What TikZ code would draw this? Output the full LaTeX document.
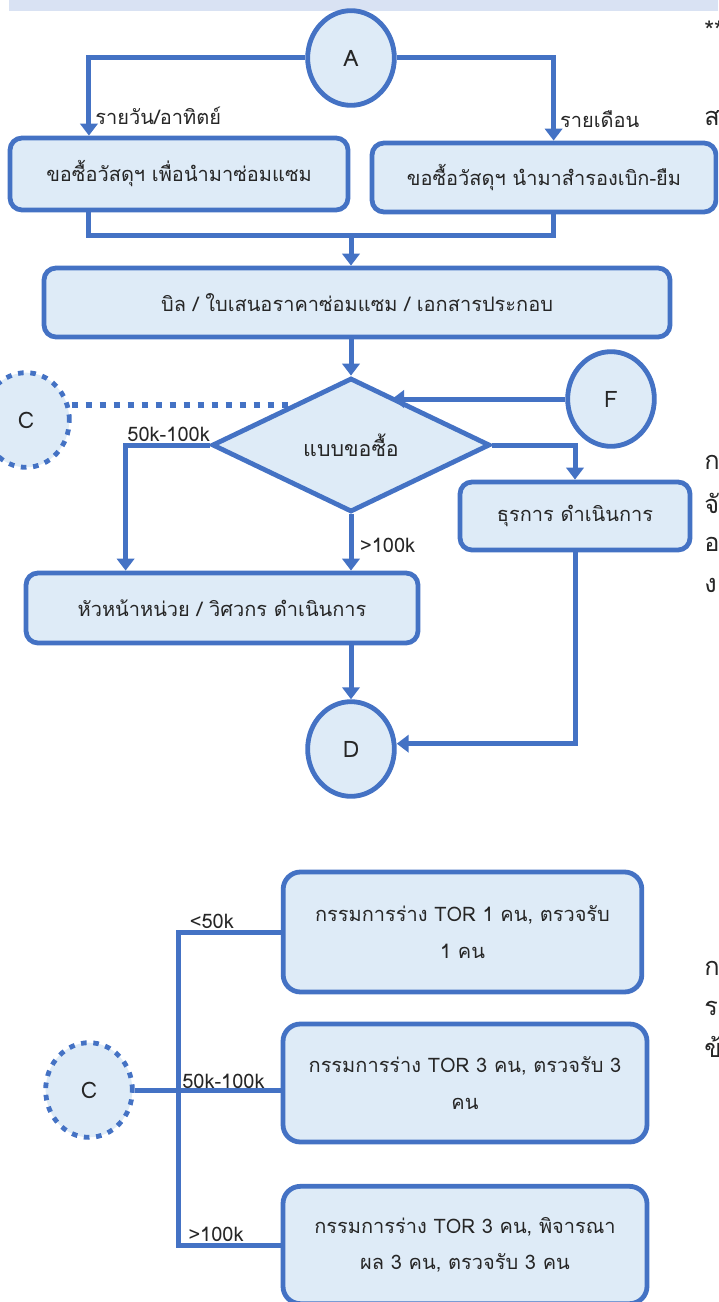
\documentclass[tikz,border=0pt]{standalone}
\usepackage{fontspec}
\setmainfont{Loma}[Script=Thai]
\usetikzlibrary{arrows.meta,shapes.geometric,calc}
\definecolor{fblue}{RGB}{68,114,196}
\definecolor{fpale}{RGB}{222,235,247}
\definecolor{fband}{RGB}{217,226,243}
\definecolor{ftext}{RGB}{38,38,38}
\tikzset{
  box/.style={rectangle, rounded corners=9pt,
    draw=fblue, fill=fpale, line width=3.6pt,
    font=\fontsize{15}{27.5}\selectfont, text=ftext,
    align=center, inner sep=0pt},
  bigbox/.style={box, rounded corners=13pt},
  conn/.style={ellipse, draw=fblue, fill=fpale, line width=3.6pt,
    inner sep=0pt, minimum width=65pt, minimum height=71pt,
    font=\fontsize{17}{20}\selectfont, text=ftext},
  offpage/.style={conn, dash pattern=on 4.2pt off 5pt},
  decide/.style={diamond, draw=fblue, fill=fpale, line width=3.6pt,
    inner sep=0pt, font=\fontsize{16}{18}\selectfont, text=ftext},
  flow/.style={draw=fblue, line width=3.75pt},
  arr/.style={flow, -{Triangle[length=9pt,width=13pt]}},
  dotline/.style={draw=fblue, line width=4.5pt, dash pattern=on 4.5pt off 6pt},
  lbl/.style={font=\fontsize{15}{17}\selectfont, text=ftext, inner sep=1pt},
  cut/.style={font=\fontsize{19}{22}\selectfont, text=ftext, inner sep=0pt, anchor=west}
}

\begin{document}
\begin{tikzpicture}[x=0.75pt,y=-0.75pt]
  \useasboundingbox (0,0) rectangle (718,1302);
  \clip (0,0) rectangle (718,1302);
  \fill[fband] (9,0) rectangle (718,11);

  % upper flow
  \node[conn] (cA) at (351,58) {A};
  \node[box, minimum width=253.5pt, minimum height=54pt] (repair) at (179,174)
    {ขอซื้อวัสดุฯ เพื่อนำมาซ่อมแซม};
  \node[box, minimum width=258pt, minimum height=51.75pt] (loan) at (544,177.5)
    {ขอซื้อวัสดุฯ นำมาสำรองเบิก-ยืม};
  \node[box, minimum width=469.5pt, minimum height=51.75pt] (bill) at (357,302.5)
    {บิล / ใบเสนอราคาซ่อมแซม / เอกสารประกอบ};
  \node[decide, minimum width=208.5pt, minimum height=100.5pt] (kind) at (351,445)
    {แบบขอซื้อ};
  \node[offpage] (cC) at (26,420) {C};
  \node[conn] (cF) at (611,399) {F};
  \node[box, minimum width=172.5pt, minimum height=51pt] (clerk) at (575,516)
    {ธุรการ ดำเนินการ};
  \node[box, minimum width=294pt, minimum height=52.5pt] (chief) at (222,608)
    {หัวหน้าหน่วย / วิศวกร ดำเนินการ};
  \node[conn] (cD) at (351,749) {D};

  \draw[arr] (cA.west) -| ([xshift=61pt]repair.north west)
    node[lbl, pos=0.87, right, xshift=2pt] {รายวัน/อาทิตย์};
  \draw[arr] (cA.east) -| ([xshift=138pt]loan.north west)
    node[lbl, pos=0.87, right, xshift=2pt] {รายเดือน};
  \coordinate (mrg) at (351,235);
  \draw[flow] ([xshift=61pt]repair.south west) |- (mrg) -| ([xshift=138pt]loan.south west);
  \draw[arr] (mrg) -- (mrg |- bill.north);
  \draw[arr] (bill.south -| kind.north) -- (kind.north);

  \coordinate (dk) at ($(kind.west)!0.58!(kind.north)$);
  \draw[dotline] (cC.east |- dk) -- (dk);
  \coordinate (fk) at ($(kind.north)!0.29!(kind.east)$);
  \draw[arr] (cF.west) -- (cF.west -| fk);

  \draw[arr] (kind.east) -| (clerk.north);
  \draw[arr] (kind.west) node[lbl, above left, xshift=3pt] {50k-100k}
    -| ([xshift=76.5pt]chief.north west);
  \draw[arr] (kind.south) -- (kind.south |- chief.north)
    node[lbl, pos=0.55, right, xshift=4pt] {>100k};
  \draw[arr] (chief.south -| cD.north) -- (cD.north);
  \draw[arr] (clerk.south) |- ([yshift=4pt]cD.east);

  % committee by amount
  \node[offpage] (cCb) at (89,1090) {C};
  \node[bigbox, minimum width=269pt, minimum height=90pt] (tor1) at (462.5,932)
    {กรรมการร่าง TOR 1 คน, ตรวจรับ\\1 คน};
  \node[bigbox, minimum width=273pt, minimum height=88.5pt] (tor2) at (465,1083)
    {กรรมการร่าง TOR 3 คน, ตรวจรับ 3\\คน};
  \node[bigbox, minimum width=273pt, minimum height=88pt] (tor3) at (465,1245)
    {กรรมการร่าง TOR 3 คน, พิจารณา\\ผล 3 คน, ตรวจรับ 3 คน};

  \coordinate (trk) at (178,1090);
  \draw[flow] (tor1.west) -| (trk)
    node[lbl, pos=0.5, anchor=south west, xshift=6pt] {<50k}
    |- (tor3.west)
    node[lbl, pos=0.5, anchor=south west, xshift=5pt] {>100k};
  \draw[flow] (cCb.east) -- (cCb.east -| tor2.west);
  \node[lbl, anchor=south west, xshift=2pt] (mid) at (trk) {50k-100k};

  % text of the page, cut at the edge
  \node[cut] (t1) at (704,30) {**};
  \node[cut] (t2) at (704,118) {ส};
  \node[cut] (t3) at (704,462) {ก};
  \node[cut] (t4) at (704,503) {จั};
  \node[cut] (t5) at (704,544) {อ};
  \node[cut] (t6) at (704,585) {ง};
  \node[cut] (t7) at (704,968) {ก};
  \node[cut] (t8) at (704,1008) {ร};
  \node[cut] (t9) at (704,1047) {ข้};
\end{tikzpicture}
\end{document}
